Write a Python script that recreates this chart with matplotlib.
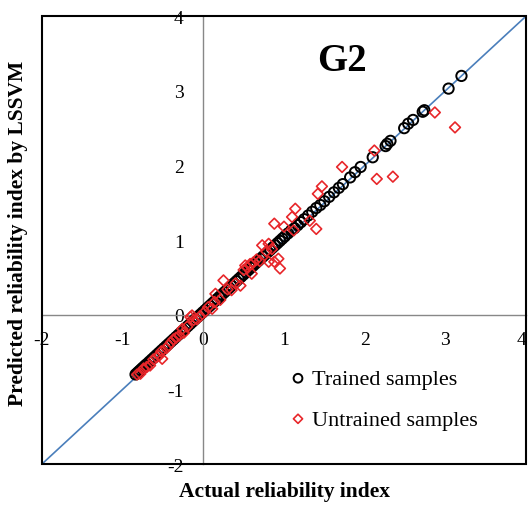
import matplotlib
matplotlib.use("Agg")
from matplotlib import pyplot as plt
from matplotlib.patches import Rectangle

# trained samples (actual, predicted)
trained_x = [-0.84, -0.82, -0.80, -0.78, -0.76, -0.74, -0.72, -0.70, -0.67, -0.64,
             -0.61, -0.58, -0.55, -0.52, -0.49, -0.46, -0.43, -0.40, -0.37, -0.34,
             -0.31, -0.28, -0.25, -0.22, -0.19, -0.16, -0.13, -0.10, -0.07, -0.04,
             -0.01, 0.02, 0.05, 0.08, 0.11, 0.14, 0.17, 0.20, 0.23, 0.26,
             0.29, 0.32, 0.35, 0.38, 0.41, 0.44, 0.47, 0.50, 0.53, 0.56,
             0.59, 0.62, 0.65, 0.68, 0.71, 0.74, 0.77, 0.80, 0.83, 0.86,
             0.89, 0.92, 0.95, 0.98, 1.01, 1.05, 1.09, 1.13, 1.17, 1.21,
             1.25, 1.30, 1.35, 1.40, 1.45, 1.50, 1.56, 1.62, 1.68, 1.73,
             1.82, 1.88, 1.95, 2.10, 2.26, 2.28, 2.32, 2.49, 2.54, 2.60,
             2.72, 2.74, 3.04, 3.20]
trained_y = [-0.80, -0.78, -0.76, -0.74, -0.72, -0.70, -0.68, -0.66, -0.63, -0.60,
             -0.57, -0.54, -0.51, -0.48, -0.45, -0.42, -0.39, -0.36, -0.33, -0.30,
             -0.27, -0.24, -0.21, -0.18, -0.15, -0.12, -0.09, -0.06, -0.03, 0.00,
             0.03, 0.06, 0.09, 0.12, 0.15, 0.18, 0.21, 0.24, 0.27, 0.30,
             0.33, 0.36, 0.39, 0.42, 0.45, 0.48, 0.51, 0.54, 0.57, 0.60,
             0.63, 0.66, 0.69, 0.72, 0.75, 0.78, 0.81, 0.84, 0.87, 0.90,
             0.93, 0.96, 0.99, 1.02, 1.05, 1.09, 1.13, 1.16, 1.20, 1.24,
             1.28, 1.33, 1.38, 1.43, 1.47, 1.52, 1.58, 1.64, 1.70, 1.75,
             1.84, 1.91, 1.98, 2.11, 2.26, 2.29, 2.33, 2.50, 2.56, 2.61,
             2.72, 2.74, 3.03, 3.20]

# untrained samples (actual, predicted)
untrained_x = [-0.82, -0.78, -0.74, -0.70, -0.66, -0.62, -0.58, -0.55, -0.52, -0.51,
               -0.46, -0.43, -0.40, -0.37, -0.34, -0.30, -0.26, -0.24, -0.20, -0.16,
               -0.14, -0.12, -0.08, -0.04, 0.02, 0.06, 0.11, 0.14, 0.15, 0.21,
               0.25, 0.30, 0.35, 0.40, 0.46, 0.50, 0.52, 0.55, 0.58, 0.60,
               0.62, 0.66, 0.70, 0.73, 0.78, 0.81, 0.81, 0.85, 0.88, 0.93,
               0.95, 0.88, 1.00, 1.10, 1.12, 1.14, 1.32, 1.40, 1.42, 1.47,
               1.72, 2.12, 2.15, 2.35, 2.87, 3.12]
untrained_y = [-0.80, -0.79, -0.72, -0.70, -0.68, -0.60, -0.57, -0.55, -0.49, -0.59,
               -0.45, -0.41, -0.37, -0.33, -0.31, -0.28, -0.19, -0.24, -0.16, -0.03,
               -0.01, -0.07, -0.06, -0.02, 0.04, 0.10, 0.08, 0.17, 0.28, 0.20,
               0.46, 0.34, 0.33, 0.42, 0.39, 0.60, 0.66, 0.63, 0.68, 0.55,
               0.70, 0.74, 0.72, 0.93, 0.85, 0.95, 0.71, 0.88, 0.71, 0.75,
               0.62, 1.22, 1.18, 1.31, 1.13, 1.42, 1.26, 1.15, 1.62, 1.72,
               1.98, 2.20, 1.82, 1.85, 2.71, 2.51]

axis_ticks = [-2, -1, 0, 1, 2, 3, 4]

plt.rcParams['font.family'] = ['Liberation Serif', 'DejaVu Serif']

fig = plt.figure(figsize=(5.28, 5.06), dpi=100)
ax = fig.add_axes([0.0795, 0.081, 0.9167, 0.885])

ax.set_xlim(-2, 4)
ax.set_ylim(-2, 4)

# 1:1 line
ax.plot([-2, 4], [-2, 4], color='#4a7ebb', lw=1.2, zorder=1)

ax.scatter(trained_x, trained_y, s=55, facecolors='none', edgecolors='black',
           linewidths=1.4, label='Trained samples', zorder=3)
ax.scatter(untrained_x, untrained_y, s=30, marker='D', facecolors='none',
           edgecolors='#e8262a', linewidths=1.2, label='Untrained samples', zorder=4)

# axes crossing at zero, gray
for side in ['left', 'bottom']:
    ax.spines[side].set_position(('data', 0))
    ax.spines[side].set_color('#888888')
    ax.spines[side].set_linewidth(1.0)
for side in ['top', 'right']:
    ax.spines[side].set_visible(False)
ax.add_patch(Rectangle((0, 0), 1, 1, transform=ax.transAxes, fill=False,
                       ec='black', lw=1.5, clip_on=False, zorder=5))

ax.set_xticks(axis_ticks)
ax.set_yticks(axis_ticks)
ax.set_xticklabels([str(t) for t in axis_ticks])
ax.set_yticklabels([str(t) for t in axis_ticks])
ax.tick_params(axis='both', length=0, labelsize=14)
ax.tick_params(axis='x', pad=12)
ax.tick_params(axis='y', pad=14)
# keep the last x label inside the figure
ax.get_xticklabels()[-1].set_horizontalalignment('right')

fig.text(0.538, 0.028, 'Actual reliability index', ha='center', va='center',
         fontsize=15.5, fontweight='bold')
fig.text(0.034, 0.539, 'Predicted reliability index by LSSVM', ha='center',
         va='center', rotation=90, fontsize=15.5, fontweight='bold')

ax.text(0.62, 0.902, 'G2', transform=ax.transAxes, ha='center', va='center',
        fontsize=28, fontweight='bold')

ax.legend(loc='center left', bbox_to_anchor=(0.506, 0.145), frameon=False,
          fontsize=16, handletextpad=0.15, handlelength=1.0, borderpad=0,
          borderaxespad=0, labelspacing=0.9, markerscale=0.85)

plt.savefig('out.png', dpi=100)
